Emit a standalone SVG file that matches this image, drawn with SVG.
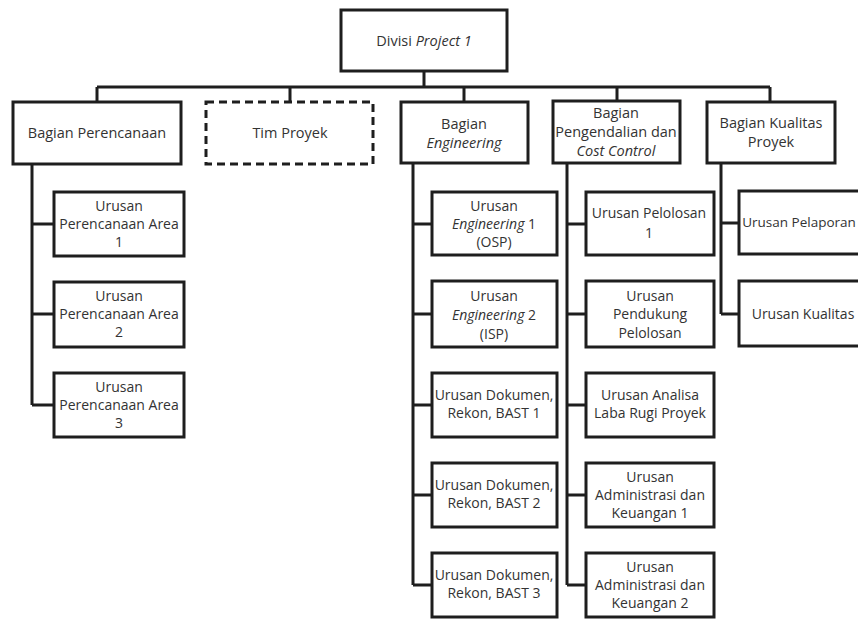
<svg xmlns="http://www.w3.org/2000/svg" width="858" height="619" viewBox="0 0 858 619">
<style>
.box{fill:#fff;stroke:#1e1e1e;stroke-width:3}
.dash{fill:#fff;stroke:#1e1e1e;stroke-width:3;stroke-dasharray:8 5}
.ln{fill:none;stroke:#1e1e1e;stroke-width:3}
text{font-family:"Open Sans","Liberation Sans",sans-serif;font-size:14px;fill:#333;text-anchor:middle}
.h{font-size:14.5px}
.i{font-style:italic}
</style>
<rect width="858" height="619" fill="#fff"/>
<g id="connectors">
<path class="ln" d="M424 71V87M97 87H770M97 87V102M290 87V102M464 87V102M617 87V101M770 87V102"/>
<path class="ln" d="M32 164V405M32 224H54M32 314H54M32 405H54"/>
<path class="ln" d="M413 163V585M413 224H432M413 314H432M413 405H432M413 495H432M413 585H432"/>
<path class="ln" d="M567 163V585M567 224H586M567 314H586M567 405H586M567 495H586M567 585H586"/>
<path class="ln" d="M721 163V314M721 223H739M721 314H739"/>
</g>
<g id="divisi">
<rect class="box" x="341" y="10" width="166" height="61"/>
<text class="h" x="424" y="46">Divisi <tspan class="i">Project 1</tspan></text>
</g>
<g id="perencanaan">
<rect class="box" x="13" y="102" width="168" height="62"/>
<text class="h" x="97" y="138">Bagian Perencanaan</text>
</g>
<g id="tim">
<rect class="dash" x="206" y="102" width="167" height="62"/>
<text class="h" x="290" y="138">Tim Proyek</text>
</g>
<g id="engineering">
<rect class="box" x="401" y="102" width="127" height="61"/>
<text class="h" x="464" y="129">Bagian</text>
<text class="h i" x="464" y="148">Engineering</text>
</g>
<g id="pengendalian">
<rect class="box" x="553" y="101" width="127" height="62"/>
<text class="h" x="616" y="118">Bagian</text>
<text class="h" x="616" y="137">Pengendalian dan</text>
<text class="h i" x="616" y="156">Cost Control</text>
</g>
<g id="kualitas">
<rect class="box" x="707" y="102" width="128" height="61"/>
<text class="h" x="771" y="128">Bagian Kualitas</text>
<text class="h" x="771" y="147">Proyek</text>
</g>
<g id="area1">
<rect class="box" x="54" y="192" width="130" height="64"/>
<text x="119" y="211">Urusan</text>
<text x="119" y="229">Perencanaan Area</text>
<text x="119" y="247">1</text>
</g>
<g id="area2">
<rect class="box" x="54" y="282" width="130" height="65"/>
<text x="119" y="301">Urusan</text>
<text x="119" y="319">Perencanaan Area</text>
<text x="119" y="337">2</text>
</g>
<g id="area3">
<rect class="box" x="54" y="373" width="130" height="64"/>
<text x="119" y="392">Urusan</text>
<text x="119" y="410">Perencanaan Area</text>
<text x="119" y="428">3</text>
</g>
<g id="eng1">
<rect class="box" x="432" y="192" width="125" height="63"/>
<text x="494" y="211">Urusan</text>
<text x="494" y="229"><tspan class="i">Engineering</tspan> 1</text>
<text x="494" y="247">(OSP)</text>
</g>
<g id="eng2">
<rect class="box" x="432" y="281" width="125" height="66"/>
<text x="494" y="301">Urusan</text>
<text x="494" y="320"><tspan class="i">Engineering</tspan> 2</text>
<text x="494" y="339">(ISP)</text>
</g>
<g id="dok1">
<rect class="box" x="432" y="373" width="125" height="64"/>
<text x="494" y="400">Urusan Dokumen,</text>
<text x="494" y="418">Rekon, BAST 1</text>
</g>
<g id="dok2">
<rect class="box" x="432" y="463" width="125" height="64"/>
<text x="494" y="490">Urusan Dokumen,</text>
<text x="494" y="508">Rekon, BAST 2</text>
</g>
<g id="dok3">
<rect class="box" x="432" y="553" width="125" height="64"/>
<text x="494" y="580">Urusan Dokumen,</text>
<text x="494" y="598">Rekon, BAST 3</text>
</g>
<g id="pel1">
<rect class="box" x="586" y="192" width="128" height="63"/>
<text x="649" y="218">Urusan Pelolosan</text>
<text x="649" y="238">1</text>
</g>
<g id="pel2">
<rect class="box" x="586" y="281" width="128" height="66"/>
<text x="650" y="301">Urusan</text>
<text x="650" y="319">Pendukung</text>
<text x="650" y="338">Pelolosan</text>
</g>
<g id="analisa">
<rect class="box" x="586" y="373" width="128" height="64"/>
<text x="650" y="400">Urusan Analisa</text>
<text x="650" y="418">Laba Rugi Proyek</text>
</g>
<g id="adm1">
<rect class="box" x="586" y="463" width="128" height="64"/>
<text x="650" y="482">Urusan</text>
<text x="650" y="500">Administrasi dan</text>
<text x="650" y="518">Keuangan 1</text>
</g>
<g id="adm2">
<rect class="box" x="586" y="553" width="128" height="64"/>
<text x="650" y="572">Urusan</text>
<text x="650" y="590">Administrasi dan</text>
<text x="650" y="608">Keuangan 2</text>
</g>
<g id="pelaporan">
<rect class="box" x="739" y="191" width="130" height="63"/>
<text x="799" y="227" style="font-size:13.5px">Urusan Pelaporan</text>
</g>
<g id="kual">
<rect class="box" x="739" y="281" width="130" height="65"/>
<text x="803" y="319">Urusan Kualitas</text>
</g>
</svg>
